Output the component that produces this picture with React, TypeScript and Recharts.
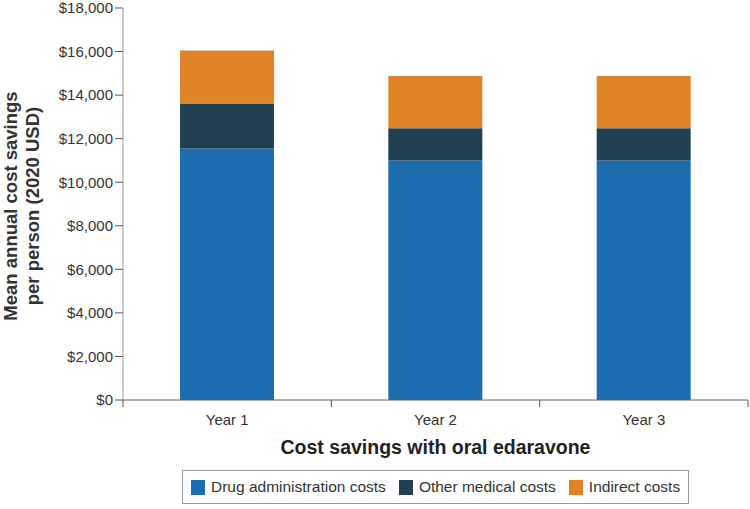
import React from 'react';
import { BarChart, Bar, XAxis, YAxis } from 'recharts';

const years = ['Year 1', 'Year 2', 'Year 3'];
const drugAdmin = [11550, 11000, 11000];
const otherMedical = [2070, 1480, 1480];
const indirect = [2430, 2400, 2400];
const yTicks = [0, 2000, 4000, 6000, 8000, 10000, 12000, 14000, 16000, 18000];

const seriesNames = ['Drug administration costs', 'Other medical costs', 'Indirect costs'];
const seriesKeys = ['drug', 'other', 'indirect'];
const colors = ['#1c6daf', '#1f4051', '#e08326'];

const data = years.map((year, i) => ({
  year,
  drug: drugAdmin[i],
  other: otherMedical[i],
  indirect: indirect[i],
}));

const FONT = 'Arial, "Liberation Sans", sans-serif';
const W = 750;
const H = 509;
const Y_AXIS_W = 123;
const RIGHT = 2;
const BAND = (W - Y_AXIS_W - RIGHT) / years.length;

const XTick = (props: any) => {
  const { x, y, payload, index } = props;
  const left = x - BAND / 2;
  return (
    <g>
      <line x1={left} y1={y - 8} x2={left} y2={y - 1} stroke="#555" />
      {index === years.length - 1 && (
        <line x1={left + BAND} y1={y - 8} x2={left + BAND} y2={y - 1} stroke="#555" />
      )}
      <text x={x} y={y + 17} textAnchor="middle" fontSize={15} fill="#333" fontFamily={FONT}>
        {payload.value}
      </text>
    </g>
  );
};

const YLabel = (props: any) => {
  const cy = props.viewBox ? props.viewBox.y + props.viewBox.height / 2 + 2 : 205;
  return (
    <text
      transform={`translate(17, ${cy}) rotate(-90)`}
      textAnchor="middle"
      fontSize={18.5}
      fontWeight="bold"
      fill="#333"
      fontFamily={FONT}
    >
      <tspan x={0} dy={0}>Mean annual cost savings</tspan>
      <tspan x={0} dy={22}>per person (2020 USD)</tspan>
    </text>
  );
};

export default function App() {
  return (
    <div style={{ position: 'absolute', left: 0, top: 0, width: W, height: H, background: '#fff' }}>
      <BarChart
        width={W}
        height={H}
        data={data}
        margin={{ top: 8, right: RIGHT, left: 0, bottom: 0 }}
        barSize={94}
      >
        <XAxis
          dataKey="year"
          height={109}
          stroke="#666"
          tickLine={false}
          tick={<XTick />}
          interval={0}
          label={{
            value: 'Cost savings with oral edaravone',
            position: 'insideBottom',
            offset: 55,
            fontSize: 19.5,
            fontWeight: 'bold',
            fill: '#222',
            fontFamily: FONT,
          }}
        />
        <YAxis
          width={Y_AXIS_W}
          domain={[0, 18000]}
          ticks={yTicks}
          interval={0}
          stroke="#999"
          tickSize={8}
          tickLine={{ stroke: '#555' }}
          tick={{ fontSize: 15, fill: '#333', fontFamily: FONT }}
          tickFormatter={(v: number) => `$${v.toLocaleString('en-US')}`}
          label={<YLabel />}
        />
        {seriesKeys.map((k, i) => (
          <Bar key={k} dataKey={k} stackId="a" fill={colors[i]} name={seriesNames[i]} isAnimationActive={false} />
        ))}
      </BarChart>
      <div
        style={{
          position: 'absolute',
          left: 182,
          top: 470,
          width: 507,
          height: 34,
          border: '1px solid #999',
          display: 'flex',
          alignItems: 'center',
          paddingLeft: 8,
          boxSizing: 'border-box',
          fontFamily: FONT,
          fontSize: 15.5,
          color: '#333',
          whiteSpace: 'nowrap',
        }}
      >
        {seriesNames.map((name, i) => (
          <div key={name} style={{ display: 'flex', alignItems: 'center', marginRight: 13, flexShrink: 0 }}>
            <span
              style={{ width: 14, height: 15, background: colors[i], marginRight: 6, display: 'inline-block', flexShrink: 0 }}
            />
            {name}
          </div>
        ))}
      </div>
    </div>
  );
}
